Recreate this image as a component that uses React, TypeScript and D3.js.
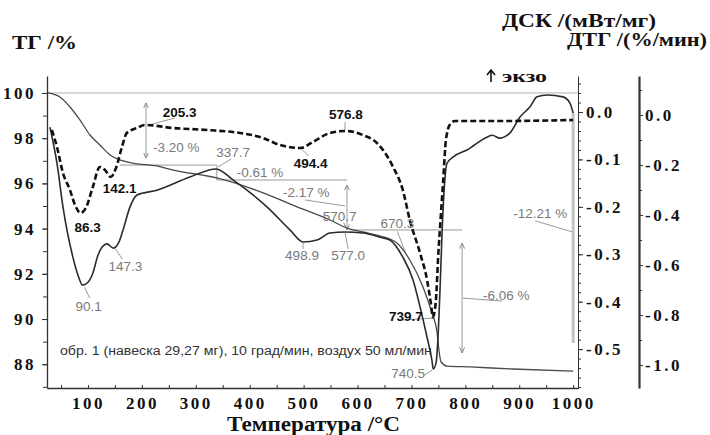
import { useRef, useEffect } from "react";
import * as d3 from "d3";

// [температура °C, значение]
const tgCurve: [number, number][] = [
  [25.8, 100.0], [48, 99.82], [66.6, 99.38], [85, 98.81], [103.7, 98.14], [122, 97.7],
  [141, 97.26], [159, 97.04], [183, 96.9], [228, 96.77], [258, 96.59], [339, 96.24],
  [425, 95.58], [488, 94.96], [549, 94.38], [580, 94.03], [610, 93.85], [642, 93.67],
  [673, 93.36], [697, 92.61], [721.5, 91.42], [738, 90.27], [747.5, 89.42], [751, 88.63],
  [755, 88.1], [766, 87.92], [809, 87.88], [888, 87.79], [1000, 87.7],
];

const dscCurve: [number, number][] = [
  [29.5, -0.032], [42.5, -0.108], [53.6, -0.2], [72, -0.306], [81.5, -0.344], [90.1, -0.365],
  [100, -0.359], [109, -0.34], [118.5, -0.302], [126, -0.285], [135, -0.278], [147.3, -0.287],
  [157.5, -0.274], [165, -0.249], [178, -0.2], [191, -0.175], [228, -0.165], [289, -0.137],
  [337.7, -0.12], [369, -0.143], [432, -0.2], [475, -0.249], [498.9, -0.274], [525, -0.27],
  [549, -0.255], [577, -0.253], [610, -0.255], [642, -0.264], [660, -0.27], [684, -0.306],
  [703, -0.354], [716, -0.411], [729, -0.475], [738, -0.523], [740.5, -0.542], [746, -0.527],
  [749, -0.481], [753, -0.376], [757, -0.249], [762, -0.143], [766, -0.108], [777, -0.095],
  [803, -0.08], [840, -0.053], [850, -0.049], [864, -0.055], [883, -0.044], [901, -0.011],
  [920, 0.011], [933, 0.032], [952, 0.036], [981, 0.032], [994, 0.019], [1000, -0.002],
];

const dtgCurve: [number, number][] = [
  [33, -0.06], [42.5, -0.128], [53.6, -0.232], [66.6, -0.3], [76, -0.36], [86.3, -0.392],
  [96, -0.372], [109, -0.288], [122, -0.208], [131.5, -0.22], [142.1, -0.248], [152, -0.212],
  [163, -0.128], [172, -0.072], [191, -0.052], [205.3, -0.04], [258, -0.052], [321, -0.06],
  [382, -0.072], [425, -0.092], [456, -0.12], [494.4, -0.132], [517, -0.108], [549, -0.072],
  [576.8, -0.064], [610, -0.08], [636, -0.112], [666, -0.208], [684, -0.3], [697, -0.42],
  [716, -0.552], [729, -0.66], [736, -0.752], [739.7, -0.808], [745, -0.752], [750, -0.552],
  [754, -0.42], [759, -0.26], [764, -0.1], [772, -0.036], [781, -0.024], [864, -0.024],
  [1000, -0.02],
];

const tempTicks = [100, 200, 300, 400, 500, 600, 700, 800, 900, 1000];
const tgTicks = [88, 90, 92, 94, 96, 98, 100];
const dscTicks = [0.0, -0.1, -0.2, -0.3, -0.4, -0.5];
const dtgTicks = [0.0, -0.2, -0.4, -0.6, -0.8, -1.0];

const dtgPeaks = [86.3, 142.1, 205.3, 494.4, 576.8, 739.7];
const dscPeaks = [90.1, 147.3, 337.7, 498.9, 577.0, 740.5];
const tgOnsets = [570.7, 670.3];

// ступени потери массы: температура, верх, низ (%)
const tgSteps = [
  { t: 207.6, from: 99.56, to: 97.12, label: "-3.20 %" },
  { t: 339, from: 96.81, to: 96.15, label: "-0.61 %" },
  { t: 580.5, from: 95.93, to: 93.94, label: "-2.17 %" },
  { t: 794, from: 93.36, to: 88.5, label: "-6.06 %" },
  { t: 1000, from: 99.12, to: 88.94, label: "-12.21 %" },
];
const tgLevels = [
  { v: 96.81, t0: 159, t1: 339 },
  { v: 96.15, t0: 339, t1: 580.5 },
  { v: 93.94, t0: 586, t1: 794 },
];

const note = "обр. 1 (навеска 29,27 мг), 10 град/мин, воздух 50 мл/мин";

function valueAt(curve: [number, number][], t: number) {
  const i = d3.bisector((d: [number, number]) => d[0]).left(curve, t);
  if (i <= 0) return curve[0][1];
  if (i >= curve.length) return curve[curve.length - 1][1];
  const [t0, v0] = curve[i - 1];
  const [t1, v1] = curve[i];
  return v0 + ((v1 - v0) * (t - t0)) / (t1 - t0);
}

export default function App() {
  const ref = useRef<SVGSVGElement>(null);

  useEffect(() => {
    const width = 710;
    const height = 435;
    const svg = d3.select(ref.current);
    svg.selectAll("*").remove();
    svg.attr("width", width).attr("height", height);

    const left = 47, right = 578, top = 76, bottom = 388;
    const serif = "'Liberation Serif', 'Times New Roman', serif";
    const sans = "'Liberation Sans', Arial, sans-serif";
    const gray = "#7a7a7a";

    const x = d3.scaleLinear().domain([24, 1009]).range([left, right]);
    const yTg = d3.scaleLinear().domain([86.95, 100.75]).range([bottom, top]);
    const yDsc = d3.scaleLinear().domain([-0.582, 0.076]).range([bottom, top]);
    const yDtg = d3.scaleLinear().domain([-1.092, 0.156]).range([bottom, top]);

    svg.append("rect").attr("width", width).attr("height", height).attr("fill", "#fff");

    const defs = svg.append("defs");
    defs.append("marker")
      .attr("id", "arr")
      .attr("viewBox", "0 0 6 6")
      .attr("refX", 5.5)
      .attr("refY", 3)
      .attr("markerWidth", 6)
      .attr("markerHeight", 6)
      .attr("markerUnits", "userSpaceOnUse")
      .attr("orient", "auto-start-reverse")
      .append("path")
      .attr("d", "M0,0.5 L5.5,3 L0,5.5")
      .attr("fill", "none")
      .attr("stroke", "#888")
      .attr("stroke-width", 1);

    // ---- линия 100 % ----
    svg.append("line")
      .attr("x1", left).attr("x2", right)
      .attr("y1", yTg(100)).attr("y2", yTg(100))
      .attr("stroke", "#b0b0b0").attr("stroke-width", 1);

    // ---- ступени ТГ ----
    const ann = svg.append("g").attr("stroke", "#999").attr("stroke-width", 1).attr("fill", "none");
    tgLevels.forEach((l) => {
      ann.append("line")
        .attr("x1", x(l.t0)).attr("x2", x(l.t1))
        .attr("y1", yTg(l.v)).attr("y2", yTg(l.v));
    });
    const stepOffsets = [
      { dx: 7, dy: 49, lead: null },
      { dx: 20, dy: 12, lead: null },
      { dx: -64, dy: 12, lead: [-42, 15, -2, 21] },
      { dx: 21, dy: 57, lead: [1, 55, 40, 58] },
      { dx: -60, dy: 105, lead: [-38, 108, -1, 119] },
    ];
    tgSteps.forEach((s, i) => {
      const sx = x(s.t);
      const y0 = yTg(s.from);
      const isTotal = i === tgSteps.length - 1;
      const ln = ann.append("line")
        .attr("x1", sx).attr("x2", sx)
        .attr("y1", y0).attr("y2", yTg(s.to));
      if (isTotal) {
        ln.attr("stroke", "#c2c2c2").attr("stroke-width", 3);
      } else if (i !== 1) {
        ln.attr("marker-start", "url(#arr)").attr("marker-end", "url(#arr)");
      }
      const o = stepOffsets[i];
      if (o.lead) {
        ann.append("line")
          .attr("x1", sx + o.lead[0]).attr("y1", y0 + o.lead[1])
          .attr("x2", sx + o.lead[2]).attr("y2", y0 + o.lead[3]);
      }
      svg.append("text")
        .attr("x", sx + o.dx).attr("y", y0 + o.dy)
        .attr("font-family", sans).attr("font-size", 13.5)
        .attr("fill", gray)
        .text(s.label);
    });

    // ---- кривые ----
    const line = (ys) =>
      d3.line<[number, number]>()
        .x((d) => x(d[0]))
        .y((d) => ys(d[1]))
        .curve(d3.curveMonotoneX);

    svg.append("path")
      .attr("d", line(yTg)(tgCurve))
      .attr("fill", "none").attr("stroke", "#4a4a4a").attr("stroke-width", 1.3);
    svg.append("path")
      .attr("d", line(yDsc)(dscCurve))
      .attr("fill", "none").attr("stroke", "#2b2b2b").attr("stroke-width", 1.6);
    svg.append("path")
      .attr("d", line(yDtg)(dtgCurve))
      .attr("fill", "none").attr("stroke", "#111").attr("stroke-width", 2.6)
      .attr("stroke-dasharray", "6,3");

    // ---- подписи пиков ----
    const peakLabel = (px, py, text, o, bold) => {
      if (o.lead) {
        ann.append("line")
          .attr("x1", px + o.lead[0]).attr("y1", py + o.lead[1])
          .attr("x2", px + o.lead[2]).attr("y2", py + o.lead[3]);
      }
      svg.append("text")
        .attr("x", px + o.dx).attr("y", py + o.dy)
        .attr("text-anchor", "middle")
        .attr("font-family", sans).attr("font-size", 13.5)
        .attr("font-weight", bold ? 700 : 400)
        .attr("fill", bold ? "#111" : gray)
        .text(text);
    };
    const dtgOff = [
      { dx: 7, dy: 19, lead: null },
      { dx: 9, dy: 16, lead: null },
      { dx: 35, dy: -8, lead: [4, 0, 30, -7] },
      { dx: 10, dy: 20, lead: [2, 2, 8, 8] },
      { dx: 1, dy: -12, lead: [0, -1, 0, -9] },
      { dx: -27, dy: 4, lead: [-31, 3, 2, 1] },
    ];
    dtgPeaks.forEach((t, i) =>
      peakLabel(x(t), yDtg(valueAt(dtgCurve, t)), t.toFixed(1), dtgOff[i], true));
    const dscOff = [
      { dx: 6, dy: 26, lead: [2, 2, 7, 13] },
      { dx: 12, dy: 23, lead: [2, 1, 9, 11] },
      { dx: 17, dy: -12, lead: [2, -2, 15, -10] },
      { dx: -1, dy: 18, lead: [0, 1, 0, 7] },
      { dx: 3, dy: 28, lead: [0, 1, 3, 17] },
      { dx: -25, dy: 9, lead: [-9, 6, -1, 1] },
    ];
    dscPeaks.forEach((t, i) =>
      peakLabel(x(t), yDsc(valueAt(dscCurve, t)), t.toFixed(1), dscOff[i], false));
    const onsetOff = [
      { dx: -2, dy: -5, lead: [2, -3, 4, 2] },
      { dx: 2, dy: -14, lead: [2, -11, 10, 10] },
    ];
    tgOnsets.forEach((t, i) =>
      peakLabel(x(t), yTg(valueAt(tgCurve, t)), t.toFixed(1), onsetOff[i], false));

    // ---- оси ----
    const styleAxis = (g, w = 1.3) => {
      g.select(".domain").attr("stroke", "#333").attr("stroke-width", w);
      g.selectAll(".tick line").attr("stroke", "#333").attr("stroke-width", 1);
      g.selectAll("text")
        .attr("font-family", serif).attr("font-weight", 700)
        .attr("font-size", 17).attr("letter-spacing", 2.5).attr("fill", "#111");
    };
    const fmt1 = (d) => (+d).toFixed(1);

    // левая ТГ
    svg.append("g").attr("transform", `translate(${left},0)`)
      .call(d3.axisLeft(yTg).tickValues(d3.range(87, 101)).tickSize(4).tickSizeOuter(0).tickFormat(() => ""))
      .call((g) => styleAxis(g));
    svg.append("g").attr("transform", `translate(${left},0)`)
      .call(d3.axisLeft(yTg).tickValues(tgTicks).tickSize(5).tickSizeOuter(0).tickPadding(6).tickFormat(d3.format("d")))
      .call((g) => { g.select(".domain").remove(); styleAxis(g); });

    // нижняя
    svg.append("g").attr("transform", `translate(0,${bottom})`)
      .call(d3.axisBottom(x).tickValues(d3.range(50, 1001, 50)).tickSize(-3).tickSizeOuter(0).tickFormat(() => ""))
      .call((g) => styleAxis(g));
    svg.append("g").attr("transform", `translate(0,${bottom})`)
      .call(d3.axisBottom(x).tickValues(tempTicks).tickSize(0).tickPadding(9).tickFormat(d3.format("d")))
      .call((g) => { g.select(".domain").remove(); styleAxis(g); });

    // ДСК
    svg.append("g").attr("transform", `translate(${right},0)`)
      .call(d3.axisRight(yDsc).tickValues(d3.range(-29, 4).map((i) => i * 0.02)).tickSize(3).tickSizeOuter(0).tickFormat(() => ""))
      .call((g) => styleAxis(g, 1));
    svg.append("g").attr("transform", `translate(${right},0)`)
      .call(d3.axisRight(yDsc).tickValues(dscTicks).tickSize(5).tickSizeOuter(0).tickPadding(3).tickFormat(fmt1))
      .call((g) => { g.select(".domain").remove(); styleAxis(g); });

    // ДТГ
    const dtgX = 639;
    svg.append("g").attr("transform", `translate(${dtgX},0)`)
      .call(d3.axisRight(yDtg).tickValues(d3.range(-10, 2).map((i) => i * 0.1)).tickSize(3).tickSizeOuter(0).tickFormat(() => ""))
      .call((g) => styleAxis(g, 2.2));
    svg.append("g").attr("transform", `translate(${dtgX},0)`)
      .call(d3.axisRight(yDtg).tickValues(dtgTicks).tickSize(4).tickSizeOuter(0).tickPadding(2).tickFormat(fmt1))
      .call((g) => { g.select(".domain").remove(); styleAxis(g); });

    // ---- подписи осей ----
    const title = (tx, ty, text, size, len) =>
      svg.append("text")
        .attr("x", tx).attr("y", ty)
        .attr("font-family", serif).attr("font-weight", 700)
        .attr("font-size", size).attr("fill", "#111")
        .attr("textLength", len).attr("lengthAdjust", "spacingAndGlyphs")
        .text(text);
    title(12, 49, "ТГ /%", 19, 65);
    title(502, 27, "ДСК /(мВт/мг)", 18, 154);
    title(567, 46, "ДТГ /(%/мин)", 18, 140);
    title(227, 431, "Температура /°C", 20, 173);

    // экзо
    const exoX = 487, exoY = 82;
    svg.append("line")
      .attr("x1", exoX + 4).attr("x2", exoX + 4)
      .attr("y1", exoY).attr("y2", exoY - 11)
      .attr("stroke", "#111").attr("stroke-width", 1.6);
    svg.append("path")
      .attr("d", `M${exoX},${exoY - 7} L${exoX + 4},${exoY - 12} L${exoX + 8},${exoY - 7}`)
      .attr("fill", "none").attr("stroke", "#111").attr("stroke-width", 1.6);
    svg.append("text")
      .attr("x", exoX + 15).attr("y", exoY)
      .attr("font-family", serif).attr("font-weight", 700)
      .attr("font-size", 16).attr("fill", "#111")
      .attr("textLength", 45).attr("lengthAdjust", "spacingAndGlyphs")
      .text("экзо");

    svg.append("text")
      .attr("x", x(48)).attr("y", yTg(88.41))
      .attr("font-family", sans).attr("font-size", 12)
      .attr("fill", "#333")
      .attr("textLength", 372).attr("lengthAdjust", "spacingAndGlyphs")
      .text(note);
  }, []);

  return (
    <svg
      ref={ref}
      style={{ position: "absolute", left: 0, top: 0, background: "#fff" }}
    />
  );
}
